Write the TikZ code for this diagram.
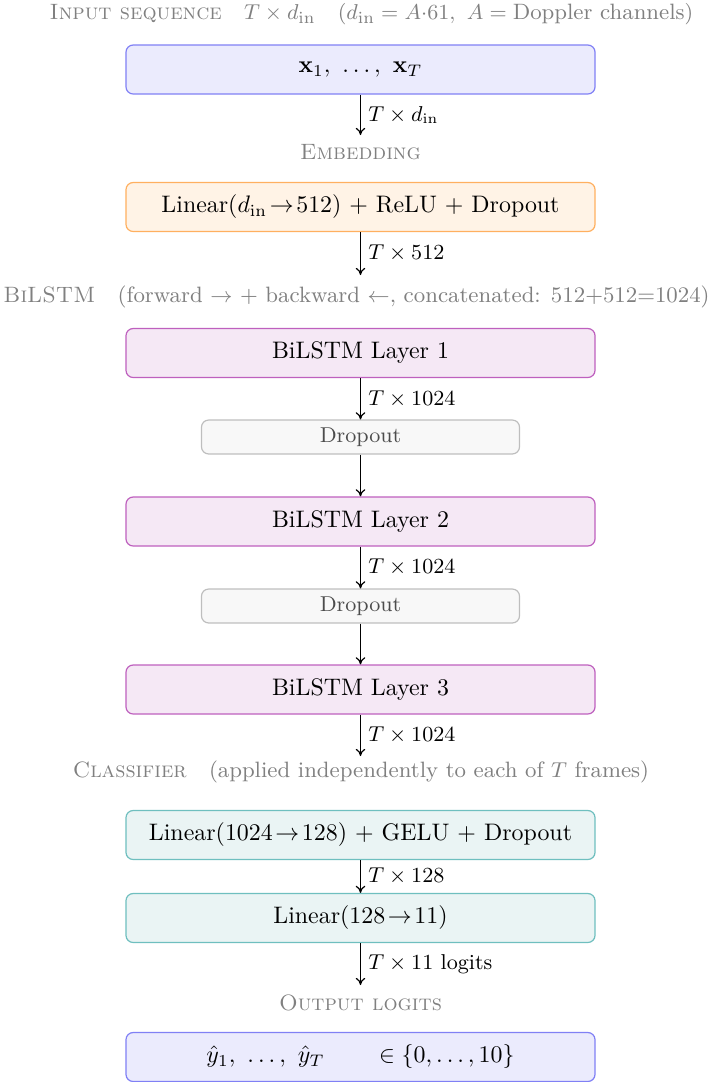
\documentclass[tikz,border=0pt]{standalone}
\usepackage{amsmath,amssymb}
\usetikzlibrary{arrows.meta}
\definecolor{inpfill}{RGB}{235,235,253}
\definecolor{inpdraw}{RGB}{128,128,245}
\definecolor{embfill}{RGB}{255,243,230}
\definecolor{embdraw}{RGB}{255,176,96}
\definecolor{lstmfill}{RGB}{245,232,245}
\definecolor{lstmdraw}{RGB}{190,96,190}
\definecolor{clsfill}{RGB}{234,244,244}
\definecolor{clsdraw}{RGB}{111,191,191}
\definecolor{dropfill}{RGB}{248,248,248}
\definecolor{dropdraw}{RGB}{190,190,190}
\definecolor{hdr}{RGB}{128,128,128}
\tikzset{
  mainbox/.style={draw, rounded corners=3pt, line width=0.5pt, minimum width=196.3pt, minimum height=20.5pt, inner sep=0pt, align=center},
  inpbox/.style={mainbox, fill=inpfill, draw=inpdraw},
  embbox/.style={mainbox, fill=embfill, draw=embdraw},
  lstmbox/.style={mainbox, fill=lstmfill, draw=lstmdraw},
  clsbox/.style={mainbox, fill=clsfill, draw=clsdraw},
  dropbox/.style={draw=dropdraw, fill=dropfill, rounded corners=3pt, line width=0.5pt, minimum width=133.1pt, minimum height=14.2pt, inner sep=0pt, font=\small, text=black!70},
  header/.style={text=hdr, inner sep=0pt, font=\fontsize{9.3}{11}\selectfont},
  flow/.style={-{To[length=3pt,width=4pt]}, line width=0.5pt},
  dimlabel/.style={right, font=\small, inner sep=3pt},
}
\begin{document}
\begin{tikzpicture}[x=0.4185pt, y=-0.4185pt]
\useasboundingbox (0,0) rectangle (710,1082);
% headers
\node[header] (h1) at (371.5,14) {\textsc{Input sequence}\quad $T\times d_{\mathrm{in}}$\quad $(d_{\mathrm{in}} = A{\cdot}61,\ A = \text{Doppler channels})$};
\node[header] (h2) at (360.5,152) {\textsc{Embedding}};
\node[header] (h3) at (356.5,297) {\textsc{BiLSTM}\quad (forward $\rightarrow$ + backward $\leftarrow$, concatenated: 512+512=1024)};
\node[header] (h4) at (361,772) {\textsc{Classifier}\quad (applied independently to each of $T$ frames)};
\node[header] (h5) at (360.5,1003) {\textsc{Output logits}};
% boxes
\node[inpbox] (b1) at (360.5,69.5) {$\mathbf{x}_1,\ \dots,\ \mathbf{x}_T$};
\node[embbox] (b2) at (360.5,207) {Linear($d_{\mathrm{in}}\!\rightarrow\!512$) + ReLU + Dropout};
\node[lstmbox] (b3) at (360.5,353) {BiLSTM Layer 1};
\node[dropbox] (d1) at (360.5,437) {Dropout};
\node[lstmbox] (b4) at (360.5,521.5) {BiLSTM Layer 2};
\node[dropbox] (d2) at (360.5,606) {Dropout};
\node[lstmbox] (b5) at (360.5,689.5) {BiLSTM Layer 3};
\node[clsbox] (b6) at (360.5,835) {Linear($1024\!\rightarrow\!128$) + GELU + Dropout};
\node[clsbox] (b7) at (360.5,918) {Linear($128\!\rightarrow\!11$)};
\node[inpbox] (b8) at (360.5,1057) {$\hat{y}_1,\ \dots,\ \hat{y}_T \qquad \in \{0,\dots,10\}$};
% free ends
\coordinate (e1) at (360.5,135);
\coordinate (e2) at (360.5,275);
\coordinate (e5) at (360.5,756);
\coordinate (e7) at (360.5,985);
% connectors
\draw[flow] (b1.south) -- node[dimlabel] {$T\times d_{\mathrm{in}}$} (e1);
\draw[flow] (b2.south) -- node[dimlabel] {$T\times 512$} (e2);
\draw[flow] (b3.south) -- node[dimlabel] {$T\times 1024$} (d1.north);
\draw[flow] (d1.south) -- (b4.north);
\draw[flow] (b4.south) -- node[dimlabel] {$T\times 1024$} (d2.north);
\draw[flow] (d2.south) -- (b5.north);
\draw[flow] (b5.south) -- node[dimlabel] {$T\times 1024$} (e5);
\draw[flow] (b6.south) -- node[dimlabel] {$T\times 128$} (b7.north);
\draw[flow] (b7.south) -- node[dimlabel] {$T\times 11$ logits} (e7);
\end{tikzpicture}
\end{document}
